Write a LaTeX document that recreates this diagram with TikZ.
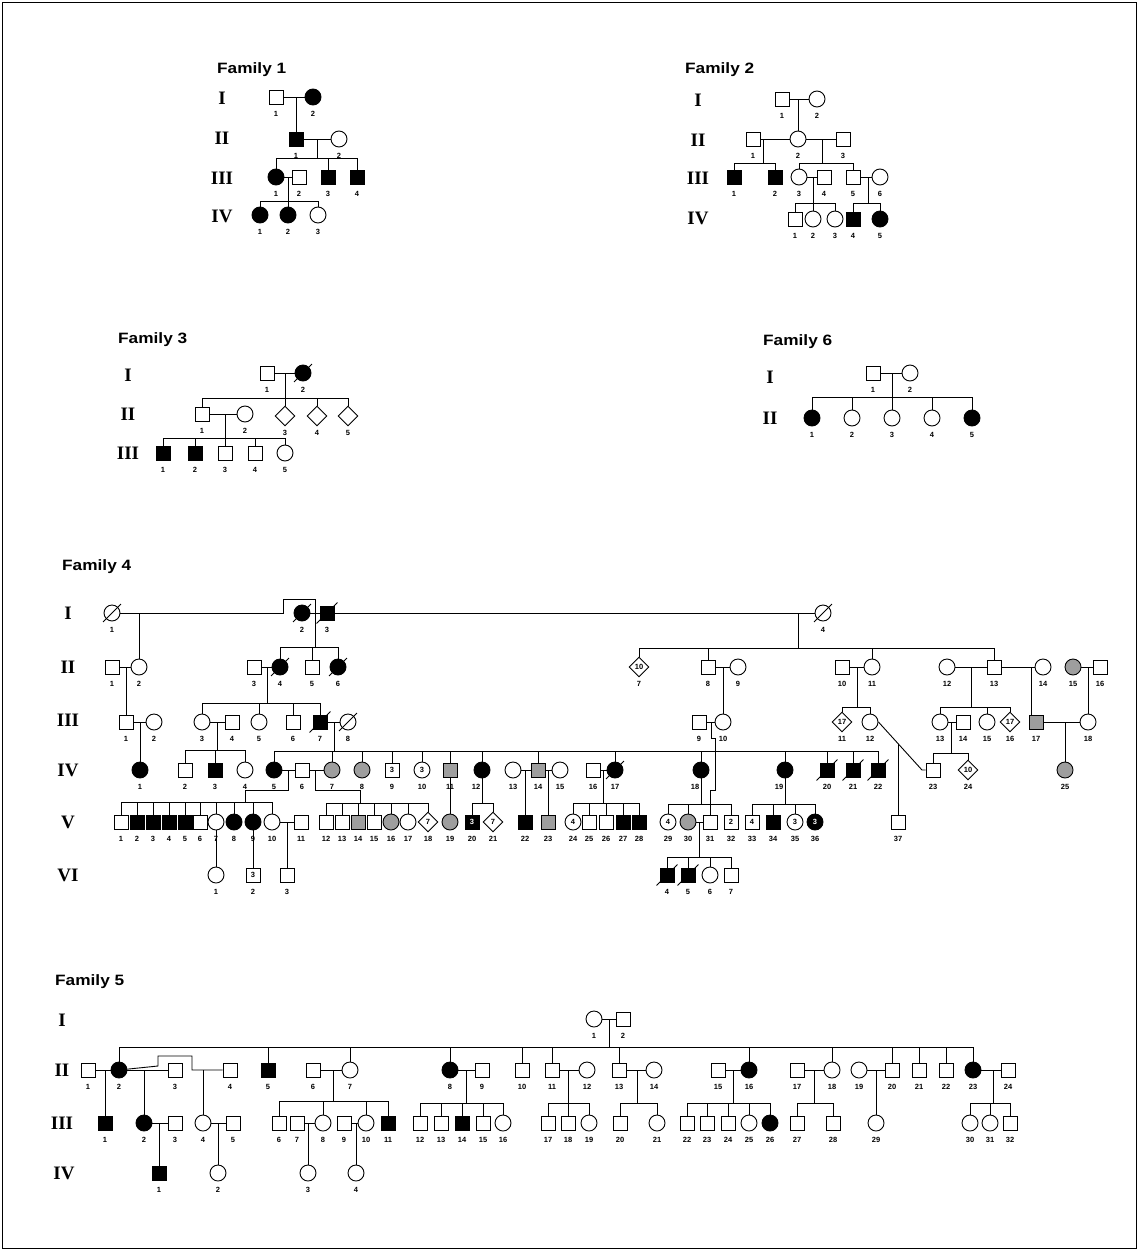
\documentclass[tikz,border=0pt]{standalone}
\usepackage{graphicx}
\usepackage{fontspec}
\setmainfont{Liberation Serif}
\newfontfamily\lsans{Liberation Sans}
\usetikzlibrary{shapes.geometric,calc}

\tikzset{
  ln/.style={line width=0.9pt},
  sym/.style={ln, draw, fill=white, inner sep=0pt, font=\lsans\bfseries\fontsize{7.5}{8}\selectfont},
  sq/.style={sym, rectangle, minimum size=14pt},
  ci/.style={sym, circle, minimum size=16pt},
  dm/.style={sym, diamond, minimum size=20pt},
  af/.style={fill=black, text=white},
  gr/.style={fill=black!38},
  lab/.style={inner sep=0pt, font=\lsans\bfseries\fontsize{7.5}{8}\selectfont},
  gen/.style={inner sep=0pt, font=\bfseries\fontsize{19}{21}\selectfont},
  ttl/.style={inner sep=0pt, anchor=west, font=\lsans\bfseries\fontsize{15}{17}\selectfont},
}

% individual: name, style, position, number below, text inside
\newcommand\Pn[5]{\node[#2] (#1) at (#3) {#5};\node[lab] (#1n) at ($(#1.center)+(0,17)$) {#4};}
% same, with the number moved sideways clear of a descending line
\newcommand\Pl[6]{\node[#2] (#1) at (#3) {#5};\node[lab] (#1n) at ($(#1.center)+(#6,17)$) {#4};}
% deceased slash
\newcommand\Dd[1]{\draw[ln] ($(#1.south west)+(-3,3)$) -- ($(#1.north east)+(3,-3)$);}
% sibship: junction, bar point, first child, last child, children with a drop
\newcommand\Kd[5]{\draw[ln] (#1) -- (#2);
  \draw[ln] (#3.north |- #2) -- (#4.north |- #2);
  \foreach \kk in {#5}{\draw[ln] (\kk.north) -- (\kk.north |- #2);}}

\begin{document}
\begin{tikzpicture}[x=1pt,y=-1pt]
\useasboundingbox (0,0) rectangle (1138,1250);
\draw[line width=1pt] (2,2) rectangle (1136,1248);

% ---------------- Family 1 ----------------
\node[ttl] (t1) at (217,70) {\scalebox{1.15}[1]{Family 1}};
\node[gen] (f1g1) at (222,98) {I};
\node[gen] (f1g2) at (222,138) {II};
\node[gen] (f1g3) at (222,178) {III};
\node[gen] (f1g4) at (222,216) {IV};
\Pn{f1I1}{sq}{276,97}{1}{}
\Pn{f1I2}{ci,af}{313,97}{2}{}
\Pn{f1II1}{sq,af}{296,139}{1}{}
\Pn{f1II2}{ci}{339,139}{2}{}
\Pn{f1III1}{ci,af}{276,177}{1}{}
\Pn{f1III2}{sq}{299,177}{2}{}
\Pn{f1III3}{sq,af}{328,177}{3}{}
\Pn{f1III4}{sq,af}{357,177}{4}{}
\Pn{f1IV1}{ci,af}{260,215}{1}{}
\Pn{f1IV2}{ci,af}{288,215}{2}{}
\Pn{f1IV3}{ci}{318,215}{3}{}
\draw[ln] (f1I1) -- (f1I2);
\coordinate (f1j1) at (296,97);
\draw[ln] (f1j1) -- (f1II1);
\draw[ln] (f1II1) -- (f1II2);
\coordinate (f1j2) at (317,139); \coordinate (f1b2) at (317,158);
\Kd{f1j2}{f1b2}{f1III1}{f1III4}{f1III1,f1III3,f1III4}
\draw[ln] (f1III1) -- (f1III2);
\coordinate (f1j3) at (288,177); \coordinate (f1b3) at (288,201);
\Kd{f1j3}{f1b3}{f1IV1}{f1IV3}{f1IV1,f1IV2,f1IV3}

% ---------------- Family 2 ----------------
\node[ttl] (t2) at (685,70) {\scalebox{1.15}[1]{Family 2}};
\node[gen] (f2g1) at (698,100) {I};
\node[gen] (f2g2) at (698,140) {II};
\node[gen] (f2g3) at (698,178) {III};
\node[gen] (f2g4) at (698,218) {IV};
\Pn{f2I1}{sq}{782,99}{1}{}
\Pn{f2I2}{ci}{817,99}{2}{}
\Pn{f2II1}{sq}{753,139}{1}{}
\Pn{f2II2}{ci}{798,139}{2}{}
\Pn{f2II3}{sq}{843,139}{3}{}
\Pn{f2III1}{sq,af}{734,177}{1}{}
\Pn{f2III2}{sq,af}{775,177}{2}{}
\Pn{f2III3}{ci}{799,177}{3}{}
\Pn{f2III4}{sq}{824,177}{4}{}
\Pn{f2III5}{sq}{853,177}{5}{}
\Pn{f2III6}{ci}{880,177}{6}{}
\Pn{f2IV1}{sq}{795,219}{1}{}
\Pn{f2IV2}{ci}{813,219}{2}{}
\Pn{f2IV3}{ci}{835,219}{3}{}
\Pn{f2IV4}{sq,af}{853,219}{4}{}
\Pn{f2IV5}{ci,af}{880,219}{5}{}
\draw[ln] (f2I1) -- (f2I2);
\coordinate (f2j1) at (798,99);
\draw[ln] (f2j1) -- (f2II2);
\draw[ln] (f2II1) -- (f2II2);
\draw[ln] (f2II2) -- (f2II3);
\coordinate (f2j2) at (763,139); \coordinate (f2b2) at (763,163);
\Kd{f2j2}{f2b2}{f2III1}{f2III2}{f2III1,f2III2}
\coordinate (f2j3) at (822,139); \coordinate (f2b3) at (822,163);
\Kd{f2j3}{f2b3}{f2III3}{f2III5}{f2III3,f2III5}
\draw[ln] (f2III3) -- (f2III4);
\coordinate (f2j4) at (813,177); \coordinate (f2b4) at (813,203);
\Kd{f2j4}{f2b4}{f2IV1}{f2IV3}{f2IV1,f2IV2,f2IV3}
\draw[ln] (f2III5) -- (f2III6);
\coordinate (f2j5) at (868,177); \coordinate (f2b5) at (868,203);
\Kd{f2j5}{f2b5}{f2IV4}{f2IV5}{f2IV4,f2IV5}

% ---------------- Family 3 ----------------
\node[ttl] (t3) at (118,340) {\scalebox{1.15}[1]{Family 3}};
\node[gen] (f3g1) at (128,375) {I};
\node[gen] (f3g2) at (128,414) {II};
\node[gen] (f3g3) at (128,453) {III};
\Pn{f3I1}{sq}{267,373}{1}{}
\Pn{f3I2}{ci,af}{303,373}{2}{} \Dd{f3I2}
\Pn{f3II1}{sq}{202,414}{1}{}
\Pn{f3II2}{ci}{245,414}{2}{}
\Pn{f3II3}{dm}{285,416}{3}{}
\Pn{f3II4}{dm}{317,416}{4}{}
\Pn{f3II5}{dm}{348,416}{5}{}
\Pn{f3III1}{sq,af}{163,453}{1}{}
\Pn{f3III2}{sq,af}{195,453}{2}{}
\Pn{f3III3}{sq}{225,453}{3}{}
\Pn{f3III4}{sq}{255,453}{4}{}
\Pn{f3III5}{ci}{285,453}{5}{}
\draw[ln] (f3I1) -- (f3I2);
\coordinate (f3j1) at (285,373); \coordinate (f3b1) at (285,398);
\Kd{f3j1}{f3b1}{f3II1}{f3II5}{f3II1,f3II3,f3II4,f3II5}
\draw[ln] (f3II1) -- (f3II2);
\coordinate (f3j2) at (225,414); \coordinate (f3b2) at (225,438);
\Kd{f3j2}{f3b2}{f3III1}{f3III5}{f3III1,f3III2,f3III3,f3III4,f3III5}

% ---------------- Family 6 ----------------
\node[ttl] (t6) at (763,342) {\scalebox{1.15}[1]{Family 6}};
\node[gen] (f6g1) at (770,377) {I};
\node[gen] (f6g2) at (770,418) {II};
\Pn{f6I1}{sq}{873,373}{1}{}
\Pn{f6I2}{ci}{910,373}{2}{}
\Pn{f6II1}{ci,af}{812,418}{1}{}
\Pn{f6II2}{ci}{852,418}{2}{}
\Pn{f6II3}{ci}{892,418}{3}{}
\Pn{f6II4}{ci}{932,418}{4}{}
\Pn{f6II5}{ci,af}{972,418}{5}{}
\draw[ln] (f6I1) -- (f6I2);
\coordinate (f6j1) at (892,373); \coordinate (f6b1) at (892,397);
\Kd{f6j1}{f6b1}{f6II1}{f6II5}{f6II1,f6II2,f6II3,f6II4,f6II5}

% ---------------- Family 4 ----------------
\node[ttl] (t4) at (62,567) {\scalebox{1.15}[1]{Family 4}};
\node[gen] (f4g1) at (68,613) {I};
\node[gen] (f4g2) at (68,667) {II};
\node[gen] (f4g3) at (68,720) {III};
\node[gen] (f4g4) at (68,770) {IV};
\node[gen] (f4g5) at (68,822) {V};
\node[gen] (f4g6) at (68,875) {VI};
% generation I
\Pn{f4I1}{ci}{112,613}{1}{} \Dd{f4I1}
\Pn{f4I2}{ci,af}{302,613}{2}{} \Dd{f4I2}
\Pn{f4I3}{sq,af}{327,613}{3}{} \Dd{f4I3}
\Pn{f4I4}{ci}{823,613}{4}{} \Dd{f4I4}
% generation II
\Pn{f4II1}{sq}{112,667}{1}{}
\Pn{f4II2}{ci}{139,667}{2}{}
\Pn{f4II3}{sq}{254,667}{3}{}
\Pn{f4II4}{ci,af}{280,667}{4}{} \Dd{f4II4}
\Pn{f4II5}{sq}{312,667}{5}{}
\Pn{f4II6}{ci,af}{338,667}{6}{} \Dd{f4II6}
\Pn{f4II7}{dm}{639,667}{7}{10}
\Pn{f4II8}{sq}{708,667}{8}{}
\Pn{f4II9}{ci}{738,667}{9}{}
\Pn{f4II10}{sq}{842,667}{10}{}
\Pn{f4II11}{ci}{872,667}{11}{}
\Pn{f4II12}{ci}{947,667}{12}{}
\Pn{f4II13}{sq}{994,667}{13}{}
\Pn{f4II14}{ci}{1043,667}{14}{}
\Pn{f4II15}{ci,gr}{1073,667}{15}{}
\Pn{f4II16}{sq}{1100,667}{16}{}
% generation III
\Pn{f4III1}{sq}{126,722}{1}{}
\Pn{f4III2}{ci}{154,722}{2}{}
\Pn{f4III3}{ci}{202,722}{3}{}
\Pn{f4III4}{sq}{232,722}{4}{}
\Pn{f4III5}{ci}{259,722}{5}{}
\Pn{f4III6}{sq}{293,722}{6}{}
\Pn{f4III7}{sq,af}{320,722}{7}{} \Dd{f4III7}
\Pn{f4III8}{ci}{348,722}{8}{} \Dd{f4III8}
\Pn{f4III9}{sq}{699,722}{9}{}
\Pn{f4III10}{ci}{723,722}{10}{}
\Pn{f4III11}{dm}{842,722}{11}{17}
\Pn{f4III12}{ci}{870,722}{12}{}
\Pn{f4III13}{ci}{940,722}{13}{}
\Pn{f4III14}{sq}{963,722}{14}{}
\Pn{f4III15}{ci}{987,722}{15}{}
\Pn{f4III16}{dm}{1010,722}{16}{17}
\Pn{f4III17}{sq,gr}{1036,722}{17}{}
\Pn{f4III18}{ci}{1088,722}{18}{}
% generation IV
\Pn{f4IV1}{ci,af}{140,770}{1}{}
\Pn{f4IV2}{sq}{185,770}{2}{}
\Pn{f4IV3}{sq,af}{215,770}{3}{}
\Pn{f4IV4}{ci}{245,770}{4}{}
\Pn{f4IV5}{ci,af}{274,770}{5}{}
\Pn{f4IV6}{sq}{302,770}{6}{}
\Pn{f4IV7}{ci,gr}{332,770}{7}{}
\Pn{f4IV8}{ci,gr}{362,770}{8}{}
\Pn{f4IV9}{sq}{392,770}{9}{3}
\Pn{f4IV10}{ci}{422,770}{10}{3}
\Pn{f4IV11}{sq,gr}{450,770}{11}{}
\Pl{f4IV12}{ci,af}{482,770}{12}{}{-6}
\Pn{f4IV13}{ci}{513,770}{13}{}
\Pn{f4IV14}{sq,gr}{538,770}{14}{}
\Pn{f4IV15}{ci}{560,770}{15}{}
\Pn{f4IV16}{sq}{593,770}{16}{}
\Pn{f4IV17}{ci,af}{615,770}{17}{} \Dd{f4IV17}
\Pl{f4IV18}{ci,af}{701,770}{18}{}{-6}
\Pl{f4IV19}{ci,af}{785,770}{19}{}{-6}
\Pn{f4IV20}{sq,af}{827,770}{20}{} \Dd{f4IV20}
\Pn{f4IV21}{sq,af}{853,770}{21}{} \Dd{f4IV21}
\Pn{f4IV22}{sq,af}{878,770}{22}{} \Dd{f4IV22}
\Pn{f4IV23}{sq}{933,770}{23}{}
\Pn{f4IV24}{dm}{968,770}{24}{10}
\Pn{f4IV25}{ci,gr}{1065,770}{25}{}
% generation V
\Pn{f4V1}{sq}{121,822}{1}{}
\Pn{f4V2}{sq,af}{137,822}{2}{}
\Pn{f4V3}{sq,af}{153,822}{3}{}
\Pn{f4V4}{sq,af}{169,822}{4}{}
\Pn{f4V5}{sq,af}{185,822}{5}{}
\Pn{f4V6}{sq}{200,822}{6}{}
\Pn{f4V7}{ci}{216,822}{7}{}
\Pn{f4V8}{ci,af}{234,822}{8}{}
\Pn{f4V9}{ci,af}{253,822}{9}{}
\Pn{f4V10}{ci}{272,822}{10}{}
\Pn{f4V11}{sq}{301,822}{11}{}
\Pn{f4V12}{sq}{326,822}{12}{}
\Pn{f4V13}{sq}{342,822}{13}{}
\Pn{f4V14}{sq,gr}{358,822}{14}{}
\Pn{f4V15}{sq}{374,822}{15}{}
\Pn{f4V16}{ci,gr}{391,822}{16}{}
\Pn{f4V17}{ci}{408,822}{17}{}
\Pn{f4V18}{dm}{428,822}{18}{7}
\Pn{f4V19}{ci,gr}{450,822}{19}{}
\Pn{f4V20}{sq,af}{472,822}{20}{3}
\Pn{f4V21}{dm}{493,822}{21}{7}
\Pn{f4V22}{sq,af}{525,822}{22}{}
\Pn{f4V23}{sq,gr}{548,822}{23}{}
\Pn{f4V24}{ci}{573,822}{24}{4}
\Pn{f4V25}{sq}{589,822}{25}{}
\Pn{f4V26}{sq}{606,822}{26}{}
\Pn{f4V27}{sq,af}{623,822}{27}{}
\Pn{f4V28}{sq,af}{639,822}{28}{}
\Pn{f4V29}{ci}{668,822}{29}{4}
\Pn{f4V30}{ci,gr}{688,822}{30}{}
\Pn{f4V31}{sq}{710,822}{31}{}
\Pn{f4V32}{sq}{731,822}{32}{2}
\Pn{f4V33}{sq}{752,822}{33}{4}
\Pn{f4V34}{sq,af}{773,822}{34}{}
\Pn{f4V35}{ci}{795,822}{35}{3}
\Pn{f4V36}{ci,af}{815,822}{36}{3}
\Pn{f4V37}{sq}{898,822}{37}{}
% generation VI
\Pn{f4VI1}{ci}{216,875}{1}{}
\Pn{f4VI2}{sq}{253,875}{2}{3}
\Pn{f4VI3}{sq}{287,875}{3}{}
\Pn{f4VI4}{sq,af}{667,875}{4}{} \Dd{f4VI4}
\Pn{f4VI5}{sq,af}{688,875}{5}{} \Dd{f4VI5}
\Pn{f4VI6}{ci}{710,875}{6}{}
\Pn{f4VI7}{sq}{731,875}{7}{}
% connections, generation I
\coordinate (f4h1) at (283,613); \coordinate (f4h2) at (283,599);
\coordinate (f4h3) at (315,599); \coordinate (f4j0) at (315,613);
\draw[ln] (f4I1) -- (f4h1) -- (f4h2) -- (f4h3) -- (f4j0);
\draw[ln] (f4I2) -- (f4I3);
\draw[ln] (f4I3) -- (f4I4);
\coordinate (f4j1) at (139,613);
\draw[ln] (f4j1) -- (f4II2);
\coordinate (f4b0) at (315,647);
\Kd{f4j0}{f4b0}{f4II4}{f4II6}{f4II4,f4II5,f4II6}
\coordinate (f4j00) at (798,613); \coordinate (f4b00) at (798,648);
\Kd{f4j00}{f4b00}{f4II7}{f4II13}{f4II7,f4II8,f4II11,f4II13}
% connections, generation II
\draw[ln] (f4II1) -- (f4II2);
\coordinate (f4j2) at (126,667);
\draw[ln] (f4j2) -- (f4III1);
\draw[ln] (f4II3) -- (f4II4);
\coordinate (f4j3) at (267,667); \coordinate (f4b3) at (267,703);
\Kd{f4j3}{f4b3}{f4III3}{f4III7}{f4III3,f4III5,f4III6,f4III7}
\draw[ln] (f4II8) -- (f4II9);
\coordinate (f4j4) at (723,667);
\draw[ln] (f4j4) -- (f4III10);
\draw[ln] (f4II10) -- (f4II11);
\coordinate (f4j5) at (857,667); \coordinate (f4b5) at (857,707);
\Kd{f4j5}{f4b5}{f4III11}{f4III12}{f4III11,f4III12}
\draw[ln] (f4II12) -- (f4II13);
\draw[ln] (f4II13) -- (f4II14);
\coordinate (f4j6) at (971,667); \coordinate (f4b6) at (971,707);
\Kd{f4j6}{f4b6}{f4III13}{f4III16}{f4III13,f4III15,f4III16}
\coordinate (f4j7) at (1031,667);
\draw[ln] (f4j7) -- (f4j7 |- f4III17.north);
\draw[ln] (f4II15) -- (f4II16);
\coordinate (f4j8) at (1088,667);
\draw[ln] (f4j8) -- (f4III18);
% connections, generation III
\draw[ln] (f4III1) -- (f4III2);
\coordinate (f4j9) at (140,722);
\draw[ln] (f4j9) -- (f4IV1);
\draw[ln] (f4III3) -- (f4III4);
\coordinate (f4j10) at (217,722); \coordinate (f4b10) at (217,750);
\Kd{f4j10}{f4b10}{f4IV2}{f4IV4}{f4IV2,f4IV3,f4IV4}
\draw[ln] (f4III7) -- (f4III8);
\coordinate (f4j11) at (334,722); \coordinate (f4b11) at (334,751);
\Kd{f4j11}{f4b11}{f4IV5}{f4IV22}{f4IV5,f4IV7,f4IV8,f4IV9,f4IV10,f4IV11,f4IV12,f4IV14,f4IV17,f4IV18,f4IV19,f4IV20,f4IV21,f4IV22}
\draw[ln] (f4III9) -- (f4III10);
\coordinate (f4j12) at (711,722); \coordinate (f4r1) at (711,738);
\coordinate (f4r2) at (715,738); \coordinate (f4r3) at (715,790);
\coordinate (f4r4) at (710,790);
\draw[ln] (f4j12) -- (f4r1) -- (f4r2) -- (f4r3) -- (f4r4) -- (f4V31);
\draw[ln] (f4III13) -- (f4III14);
\coordinate (f4j13) at (951,722); \coordinate (f4b13) at (951,753);
\Kd{f4j13}{f4b13}{f4IV23}{f4IV24}{f4IV23,f4IV24}
\draw[ln] (f4III17) -- (f4III18);
\coordinate (f4j14) at (1065,722);
\draw[ln] (f4j14) -- (f4IV25);
\coordinate (f4d2) at (922,770);
\draw[ln] (f4III12.east) -- (f4d2) -- (f4IV23);
\coordinate (f4d3) at ($(f4III12.east)!0.45!(f4d2)$);
\draw[ln] (f4d3) -- (f4d3 |- f4V37.north);
% connections, generation IV
\draw[ln] (f4IV5) -- (f4IV6);
\coordinate (f4j15) at (288,770); \coordinate (f4r5) at (288,790);
\coordinate (f4r6) at (245,790); \coordinate (f4b15) at (245,802);
\draw[ln] (f4j15) -- (f4r5) -- (f4r6);
\Kd{f4r6}{f4b15}{f4V1}{f4V10}{f4V1,f4V2,f4V3,f4V4,f4V5,f4V6,f4V7,f4V8,f4V9,f4V10}
\draw[ln] (f4IV6) -- (f4IV7);
\coordinate (f4j16) at (315,770); \coordinate (f4r7) at (315,790);
\coordinate (f4r8) at (360,790); \coordinate (f4b16) at (360,803);
\draw[ln] (f4j16) -- (f4r7) -- (f4r8);
\Kd{f4r8}{f4b16}{f4V12}{f4V18}{f4V12,f4V13,f4V14,f4V15,f4V16,f4V17,f4V18}
\draw[ln] (f4IV11) -- (f4V19);
\coordinate (f4b17) at (482,803);
\Kd{f4IV12.south}{f4b17}{f4V20}{f4V21}{f4V20,f4V21}
\draw[ln] (f4IV13) -- (f4IV14);
\coordinate (f4j18) at (525,770);
\draw[ln] (f4j18) -- (f4V22);
\draw[ln] (f4IV14) -- (f4IV15);
\coordinate (f4j19) at (548,770);
\draw[ln] (f4j19) -- (f4V23);
\draw[ln] (f4IV16) -- (f4IV17);
\coordinate (f4j20) at (603,770); \coordinate (f4b20) at (603,803);
\Kd{f4j20}{f4b20}{f4V24}{f4V28}{f4V24,f4V25,f4V26,f4V27,f4V28}
\coordinate (f4b21) at (701,804);
\Kd{f4IV18.south}{f4b21}{f4V29}{f4V32}{f4V29,f4V30,f4V31,f4V32}
\coordinate (f4b22) at (785,804);
\Kd{f4IV19.south}{f4b22}{f4V33}{f4V36}{f4V33,f4V34,f4V35,f4V36}
% connections, generation V
\draw[ln] (f4V7) -- (f4VI1);
\draw[ln] (f4V9) -- (f4VI2);
\draw[ln] (f4V10) -- (f4V11);
\coordinate (f4j23) at (287,822);
\draw[ln] (f4j23) -- (f4VI3);
\draw[ln] (f4V30) -- (f4V31);
\coordinate (f4j24) at (699,822); \coordinate (f4b24) at (699,857);
\Kd{f4j24}{f4b24}{f4VI4}{f4VI7}{f4VI4,f4VI5,f4VI6,f4VI7}

% ---------------- Family 5 ----------------
\node[ttl] (t5) at (55,982) {\scalebox{1.15}[1]{Family 5}};
\node[gen] (f5g1) at (62,1020) {I};
\node[gen] (f5g2) at (62,1070) {II};
\node[gen] (f5g3) at (62,1123) {III};
\node[gen] (f5g4) at (64,1173) {IV};
\Pn{f5I1}{ci}{594,1019}{1}{}
\Pn{f5I2}{sq}{623,1019}{2}{}
% generation II
\Pn{f5II1}{sq}{88,1070}{1}{}
\Pn{f5II2}{ci,af}{119,1070}{2}{}
\Pn{f5II3}{sq}{175,1070}{3}{}
\Pn{f5II4}{sq}{230,1070}{4}{}
\Pn{f5II5}{sq,af}{268,1070}{5}{}
\Pn{f5II6}{sq}{313,1070}{6}{}
\Pn{f5II7}{ci}{350,1070}{7}{}
\Pn{f5II8}{ci,af}{450,1070}{8}{}
\Pn{f5II9}{sq}{482,1070}{9}{}
\Pn{f5II10}{sq}{522,1070}{10}{}
\Pn{f5II11}{sq}{552,1070}{11}{}
\Pn{f5II12}{ci}{587,1070}{12}{}
\Pn{f5II13}{sq}{619,1070}{13}{}
\Pn{f5II14}{ci}{654,1070}{14}{}
\Pn{f5II15}{sq}{718,1070}{15}{}
\Pn{f5II16}{ci,af}{749,1070}{16}{}
\Pn{f5II17}{sq}{797,1070}{17}{}
\Pn{f5II18}{ci}{832,1070}{18}{}
\Pn{f5II19}{ci}{859,1070}{19}{}
\Pn{f5II20}{sq}{892,1070}{20}{}
\Pn{f5II21}{sq}{919,1070}{21}{}
\Pn{f5II22}{sq}{946,1070}{22}{}
\Pn{f5II23}{ci,af}{973,1070}{23}{}
\Pn{f5II24}{sq}{1008,1070}{24}{}
% generation III
\Pn{f5III1}{sq,af}{105,1123}{1}{}
\Pn{f5III2}{ci,af}{144,1123}{2}{}
\Pn{f5III3}{sq}{175,1123}{3}{}
\Pn{f5III4}{ci}{203,1123}{4}{}
\Pn{f5III5}{sq}{233,1123}{5}{}
\Pn{f5III6}{sq}{279,1123}{6}{}
\Pn{f5III7}{sq}{297,1123}{7}{}
\Pn{f5III8}{ci}{323,1123}{8}{}
\Pn{f5III9}{sq}{344,1123}{9}{}
\Pn{f5III10}{ci}{366,1123}{10}{}
\Pn{f5III11}{sq,af}{388,1123}{11}{}
\Pn{f5III12}{sq}{420,1123}{12}{}
\Pn{f5III13}{sq}{441,1123}{13}{}
\Pn{f5III14}{sq,af}{462,1123}{14}{}
\Pn{f5III15}{sq}{483,1123}{15}{}
\Pn{f5III16}{ci}{503,1123}{16}{}
\Pn{f5III17}{sq}{548,1123}{17}{}
\Pn{f5III18}{sq}{568,1123}{18}{}
\Pn{f5III19}{ci}{589,1123}{19}{}
\Pn{f5III20}{sq}{620,1123}{20}{}
\Pn{f5III21}{ci}{657,1123}{21}{}
\Pn{f5III22}{sq}{687,1123}{22}{}
\Pn{f5III23}{sq}{707,1123}{23}{}
\Pn{f5III24}{sq}{728,1123}{24}{}
\Pn{f5III25}{ci}{749,1123}{25}{}
\Pn{f5III26}{ci,af}{770,1123}{26}{}
\Pn{f5III27}{sq}{797,1123}{27}{}
\Pn{f5III28}{sq}{833,1123}{28}{}
\Pn{f5III29}{ci}{876,1123}{29}{}
\Pn{f5III30}{ci}{970,1123}{30}{}
\Pn{f5III31}{ci}{990,1123}{31}{}
\Pn{f5III32}{sq}{1010,1123}{32}{}
% generation IV
\Pn{f5IV1}{sq,af}{159,1173}{1}{}
\Pn{f5IV2}{ci}{218,1173}{2}{}
\Pn{f5IV3}{ci}{308,1173}{3}{}
\Pn{f5IV4}{ci}{356,1173}{4}{}
% connections
\draw[ln] (f5I1) -- (f5I2);
\coordinate (f5j0) at (609,1019); \coordinate (f5b0) at (609,1047);
\Kd{f5j0}{f5b0}{f5II2}{f5II23}{f5II2,f5II5,f5II7,f5II8,f5II10,f5II11,f5II13,f5II16,f5II18,f5II20,f5II21,f5II22,f5II23}
\draw[ln] (f5II1) -- (f5II2);
\coordinate (f5j1) at (105,1070);
\draw[ln] (f5j1) -- (f5III1);
\draw[ln] (f5II2) -- (f5II3);
\coordinate (f5j2) at (144,1070);
\draw[ln] (f5j2) -- (f5III2);
\coordinate (f5k1) at (158,1066); \coordinate (f5k2) at (158,1056);
\coordinate (f5k3) at (192,1056); \coordinate (f5k4) at (192,1070);
\draw[ln] (f5II2) -- (f5k1) -- (f5k2) -- (f5k3) -- (f5k4) -- (f5II4);
\coordinate (f5j3) at (203,1070);
\draw[ln] (f5j3) -- (f5III4);
\draw[ln] (f5II6) -- (f5II7);
\coordinate (f5j4) at (333,1070); \coordinate (f5b4) at (333,1101);
\Kd{f5j4}{f5b4}{f5III6}{f5III11}{f5III6,f5III8,f5III10,f5III11}
\draw[ln] (f5II8) -- (f5II9);
\coordinate (f5j5) at (466,1070); \coordinate (f5b5) at (466,1103);
\Kd{f5j5}{f5b5}{f5III12}{f5III16}{f5III12,f5III13,f5III14,f5III15,f5III16}
\draw[ln] (f5II11) -- (f5II12);
\coordinate (f5j6) at (568,1070); \coordinate (f5b6) at (568,1103);
\Kd{f5j6}{f5b6}{f5III17}{f5III19}{f5III17,f5III18,f5III19}
\draw[ln] (f5II13) -- (f5II14);
\coordinate (f5j7) at (637,1070); \coordinate (f5b7) at (637,1103);
\Kd{f5j7}{f5b7}{f5III20}{f5III21}{f5III20,f5III21}
\draw[ln] (f5II15) -- (f5II16);
\coordinate (f5j8) at (733,1070); \coordinate (f5b8) at (733,1103);
\Kd{f5j8}{f5b8}{f5III22}{f5III26}{f5III22,f5III23,f5III24,f5III25,f5III26}
\draw[ln] (f5II17) -- (f5II18);
\coordinate (f5j9) at (814,1070); \coordinate (f5b9) at (814,1103);
\Kd{f5j9}{f5b9}{f5III27}{f5III28}{f5III27,f5III28}
\draw[ln] (f5II19) -- (f5II20);
\coordinate (f5j10) at (876,1070);
\draw[ln] (f5j10) -- (f5III29);
\draw[ln] (f5II23) -- (f5II24);
\coordinate (f5j11) at (993,1070); \coordinate (f5b11) at (993,1103);
\Kd{f5j11}{f5b11}{f5III30}{f5III32}{f5III30,f5III31,f5III32}
\draw[ln] (f5III2) -- (f5III3);
\coordinate (f5j12) at (159,1123);
\draw[ln] (f5j12) -- (f5IV1);
\draw[ln] (f5III4) -- (f5III5);
\coordinate (f5j13) at (218,1123);
\draw[ln] (f5j13) -- (f5IV2);
\draw[ln] (f5III7) -- (f5III8);
\coordinate (f5j14) at (308,1123);
\draw[ln] (f5j14) -- (f5IV3);
\draw[ln] (f5III9) -- (f5III10);
\coordinate (f5j15) at (356,1123);
\draw[ln] (f5j15) -- (f5IV4);
\end{tikzpicture}
\end{document}
